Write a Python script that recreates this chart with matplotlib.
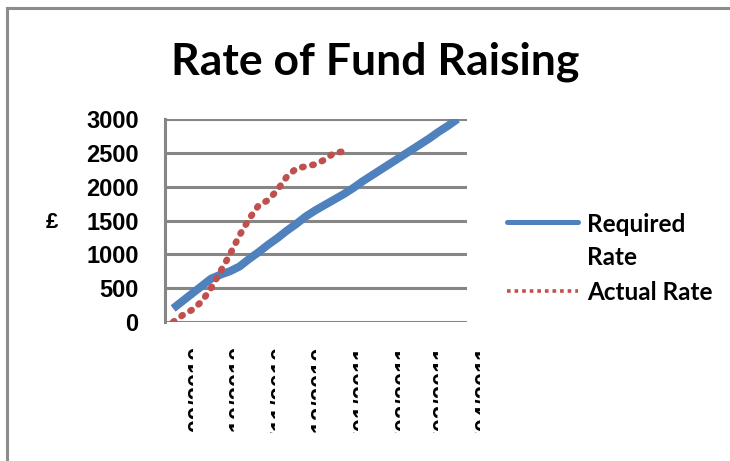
import matplotlib
matplotlib.use('Agg')
import matplotlib.pyplot as plt
import matplotlib.dates as mdates
from matplotlib.transforms import Bbox, offset_copy
import numpy as np

# weekly readings from the start of the appeal
start = np.datetime64('2010-08-20')
required = [200, 310, 420, 530, 640, 700, 750, 820, 930, 1030, 1140, 1240, 1350, 1450,
            1560, 1650, 1730, 1810, 1890, 1980, 2080, 2170, 2260, 2350, 2440, 2530,
            2620, 2710, 2810, 2900, 3000]
actual = [0, 100, 180, 300, 500, 750, 1000, 1280, 1520, 1720, 1800, 1950, 2150,
          2270, 2300, 2330, 2400, 2500, 2520]
month_labels = ['01/09/2010', '01/10/2010', '01/11/2010', '01/12/2010',
                '01/01/2011', '01/02/2011', '01/03/2011', '01/04/2011']
yticks = [0, 500, 1000, 1500, 2000, 2500, 3000]

weeks_req = start + np.arange(len(required)) * np.timedelta64(7, 'D')
weeks_act = start + np.arange(len(actual)) * np.timedelta64(7, 'D')
label_dates = [np.datetime64('%s-%s-%s' % (s[6:], s[3:5], s[:2])) for s in month_labels]

GRID = '#868686'
BLUE = '#4F81BD'
RED = '#C0504D'
W, H = 730, 461

fig = plt.figure(figsize=(7.3, 4.61), dpi=100)
ax = fig.add_axes([165/W, 1 - 322/H, (467-165)/W, (322-119)/H])

ax.plot(weeks_req, required, color=BLUE, lw=5.8, solid_capstyle='butt', zorder=3)
ax.plot(weeks_act, actual, color=RED, lw=4.8, dashes=(0.2, 1.35),
        dash_capstyle='round', zorder=4)

ax.set_ylim(0, 3000)
ax.set_xlim(start - np.timedelta64(6, 'D'), start + np.timedelta64(217, 'D'))
ax.set_yticks(yticks)
ax.set_yticklabels([str(v) for v in yticks], fontsize=17, fontweight='bold', family='Liberation Sans')
ax.tick_params(axis='y', length=0, pad=19)
ax.set_xticks([])
ax.yaxis.grid(True, color=GRID, lw=2.2)
ax.set_axisbelow(True)
for s in ['top', 'right', 'bottom']:
    ax.spines[s].set_visible(False)
ax.spines['left'].set_color(GRID)
ax.spines['left'].set_linewidth(2.2)

# month labels: the source chart only shows a thin clipped sliver of each one
labels = []
for d, lab in zip(label_dates, month_labels):
    xd = mdates.date2num(d)
    tr = offset_copy(ax.get_xaxis_transform(), fig=fig, x=-2, y=0, units='dots')
    t = ax.text(xd, 1 - (346 - 119) / (322 - 119), lab, rotation=90, ha='left', va='top',
                fontsize=17, fontweight='bold', family='Liberation Sans',
                transform=tr, clip_on=True)
    labels.append(t)
fig.canvas.draw()
renderer = fig.canvas.get_renderer()
for t in labels:
    bb = t.get_window_extent(renderer)
    t.set_clip_box(Bbox([[bb.x0 + 0.5, H - 433], [bb.x0 + 5.5, H - 345]]))

fig.text(375/W, 1 - 62/H, 'Rate of Fund Raising', ha='center', va='center',
         fontsize=32, fontweight='bold', family='Lato')
fig.text(52/W, 1 - 222/H, '£', ha='center', va='center', fontsize=16,
         fontweight='bold', family='Liberation Sans')

# legend
fig.add_artist(plt.Line2D([507/W, 578/W], [1 - 222/H, 1 - 222/H], color=BLUE, lw=3.6,
                          solid_capstyle='round'))
fig.add_artist(plt.Line2D([507/W, 578/W], [1 - 291/H, 1 - 291/H], color=RED, lw=2.6,
                          dashes=(1, 1.1)))
for txt, base in [('Required', 232), ('Rate', 265), ('Actual Rate', 300)]:
    fig.text(587/W, 1 - base/H, txt, ha='left', va='baseline', fontsize=17.5,
             fontweight='bold', family='Lato')

# chart frame (left and top edges show)
fig.add_artist(plt.Line2D([7/W, 7/W], [0, 1 - 8/H], color='#8c8c8c', lw=2.2))
fig.add_artist(plt.Line2D([7/W, 1], [1 - 8/H, 1 - 8/H], color='#8c8c8c', lw=2.2))

fig.savefig('out.png', dpi=100)
